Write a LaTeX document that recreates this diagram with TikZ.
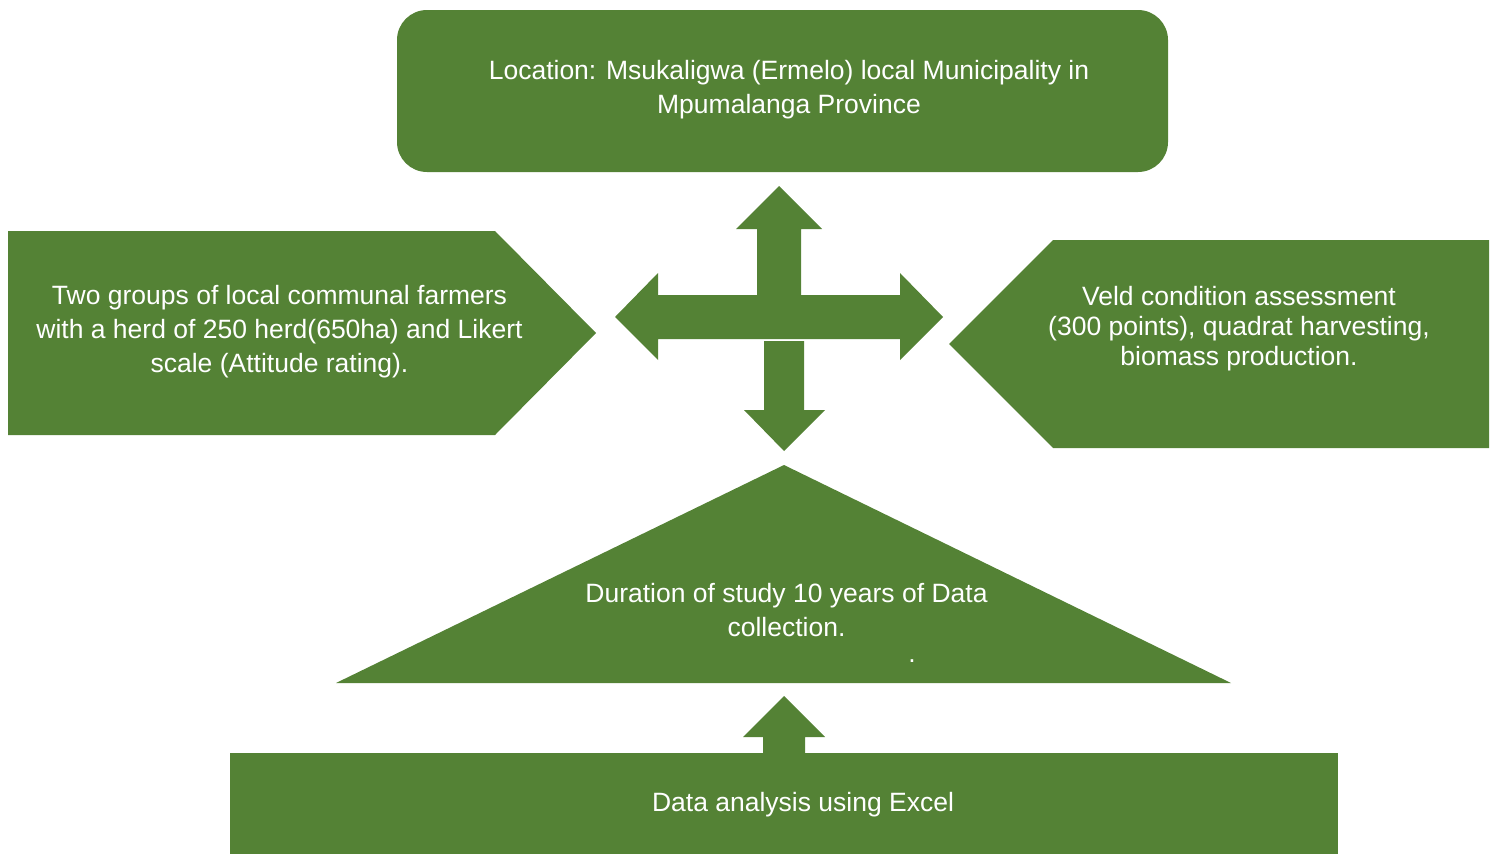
\documentclass[tikz,border=0pt]{standalone}
\usepackage{fontspec}
\setmainfont{Liberation Sans}
\definecolor{leaf}{HTML}{548235}
\begin{document}
\begin{tikzpicture}[x=1pt,y=-1pt,
  shapefill/.style={fill=leaf,draw=none},
  label/.style={text=white,align=center,inner sep=0pt,font=\fontsize{26.5}{34}\selectfont},
  tightlabel/.style={label,font=\fontsize{26.5}{30}\selectfont}]
\useasboundingbox (0,0) rectangle (1493,854);
% top rounded box
\fill[shapefill,rounded corners=30pt] (397,10) rectangle (1168,172);
% left pentagon
\fill[shapefill] (8,231) -- (495,231) -- (596,333) -- (495,435) -- (8,435) -- cycle;
% right pentagon
\fill[shapefill] (1489,240) -- (1053,240) -- (949,344) -- (1053,448) -- (1489,448) -- cycle;
% triangle
\fill[shapefill] (784,465) -- (1231,683) -- (336,683) -- cycle;
% bottom rectangle
\fill[shapefill] (230,753) rectangle (1338,854);
% central cross arrows
\fill[shapefill] (779,186) -- (822,229) -- (801,229) -- (801,295) -- (900,295) -- (900,273)
  -- (943,317) -- (900,360) -- (900,339) -- (658,339) -- (658,360) -- (615,317)
  -- (658,273) -- (658,295) -- (757,295) -- (757,229) -- (736,229) -- cycle;
\fill[shapefill] (764,341) -- (804,341) -- (804,410) -- (825,410) -- (784,451)
  -- (744,410) -- (764,410) -- cycle;
% bottom up arrow
\fill[shapefill] (784,696) -- (825,737) -- (805,737) -- (805,754) -- (763,754)
  -- (763,737) -- (743,737) -- cycle;
% texts
\node[label] (loc) at (789,90) {Location: Msukaligwa (Ermelo) local Municipality in\\Mpumalanga Province};
\node[label] (farm) at (279.5,332) {Two groups of local communal farmers\\with a herd of 250 herd(650ha) and Likert\\scale (Attitude rating).};
\node[tightlabel] (veld) at (1239,329) {Veld condition assessment\\(300 points), quadrat harvesting,\\biomass production.};
\node[label] (dur) at (786.5,610) {Duration of study 10 years of Data\\collection.};
\node[label] (dot) at (912,661) {.};
\node[label] (excel) at (803,805) {Data analysis using Excel};
\end{tikzpicture}
\end{document}
